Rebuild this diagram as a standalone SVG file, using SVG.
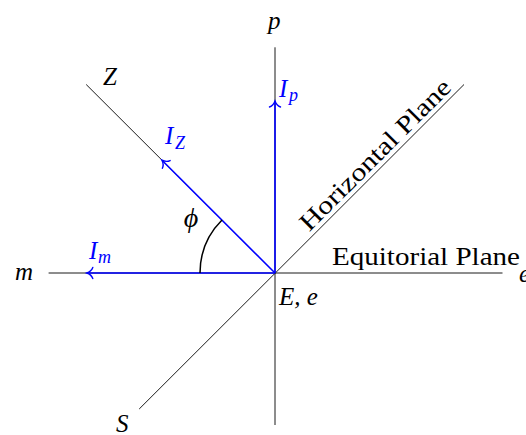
<svg xmlns="http://www.w3.org/2000/svg" width="526" height="435" viewBox="0 0 526 435">
<style>
.ax{stroke:#000;stroke-width:0.9;fill:none}
.bl{stroke:#0000FF;stroke-width:1.6;fill:none}
.arc{stroke:#000;stroke-width:1.5;fill:none}
text{font-family:"Liberation Serif","Times New Roman",serif;font-size:25px;fill:#000}
.it{font-style:italic}
.blt{fill:#0000FF}
.sub{font-size:18px}
</style>
<defs>
<marker id="ah" markerUnits="userSpaceOnUse" markerWidth="12" markerHeight="14" refX="0" refY="0" viewBox="-7 -7 12 14" orient="auto" overflow="visible">
<path d="M -6 -5.5 C -5 -2.8 -2 -0.7 0 0 C -2 0.7 -5 2.8 -6 5.5" stroke="#0000FF" stroke-width="1.4" fill="none" stroke-linecap="round"/>
</marker>
</defs>
<rect width="526" height="435" fill="#fff"/>
<g id="connectors">
<line class="ax" x1="275" y1="47.3" x2="275" y2="425"/>
<line class="ax" x1="48.6" y1="273" x2="502.5" y2="273"/>
<line class="ax" x1="139.2" y1="409" x2="464" y2="84.5"/>
<line class="ax" x1="275" y1="273" x2="86.2" y2="84.5"/>
<line class="bl" x1="275" y1="273" x2="86.8" y2="273" marker-end="url(#ah)"/>
<line class="bl" x1="275" y1="273" x2="162" y2="160.2" marker-end="url(#ah)"/>
<line class="bl" x1="275" y1="273" x2="275" y2="101" marker-end="url(#ah)"/>
<path class="arc" d="M 200 273 A 75 75 0 0 1 222 220"/>
</g>
<g id="node-p"><text class="it" x="268" y="28.5">p</text></g>
<g id="node-Z"><text class="it" x="103" y="85">Z</text></g>
<g id="node-S"><text class="it" x="116" y="432">S</text></g>
<g id="node-m"><text class="it" x="15" y="280">m</text></g>
<g id="node-e"><text class="it" x="519" y="282">e</text></g>
<g id="node-Ee"><text class="it" x="279" y="305">E, e</text></g>
<g id="node-Ip"><text class="it blt" x="279" y="96.7">I<tspan class="sub" x="289" y="100.5">p</tspan></text></g>
<g id="node-IZ"><text class="it blt" x="165" y="144">I<tspan class="sub" x="175" y="148.5">Z</tspan></text></g>
<g id="node-Im"><text class="it blt" x="89" y="259.3">I<tspan class="sub" x="98" y="262.5">m</tspan></text></g>
<g id="node-phi"><text class="it" x="191" y="227" text-anchor="middle" style="font-size:28px">ϕ</text></g>
<g id="node-equitorial"><text x="332" y="265" textLength="188" lengthAdjust="spacingAndGlyphs">Equitorial Plane</text></g>
<g id="node-horizontal"><text x="0" y="0" text-anchor="middle" textLength="203" lengthAdjust="spacingAndGlyphs" transform="translate(381,160.6) rotate(-45)">Horizontal Plane</text></g>
</svg>
